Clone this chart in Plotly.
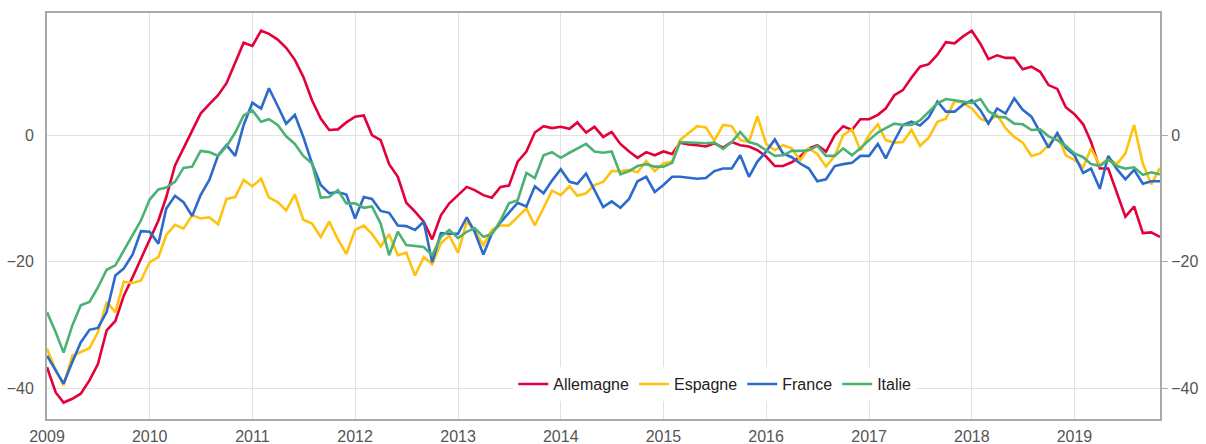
import pandas as pd
import plotly.graph_objects as go

months = pd.date_range("2009-01-01", periods=131, freq="MS")

allemagne = [-36.7, -40.7, -42.3, -41.7, -40.9, -38.8, -36.2, -30.9, -29.4, -25.4, -22.5, -19.5,
             -16.4, -13.5, -9.8, -4.8, -2.1, 0.8, 3.4, 4.9, 6.3, 8.2, 11.4, 14.6,
             14.1, 16.5, 16.0, 15.1, 13.8, 11.9, 9.2, 5.5, 2.6, 0.8, 0.9, 2.0,
             2.9, 3.1, 0.0, -0.8, -4.6, -6.6, -10.7, -12.1,
             -13.7, -16.5, -12.7, -10.8, -9.5, -8.2, -8.7, -9.5, -9.9, -8.2, -8.0, -4.2,
             -2.6, 0.4, 1.4, 1.1, 1.3, 1.0, 2.0, 0.4, 1.3, -0.3, 0.5, -1.4,
             -2.6, -3.6, -2.7, -3.2, -2.6, -3.0, -1.2, -1.5, -1.6, -1.8, -1.3, -2.0,
             -1.1, -1.6, -1.8, -2.4, -3.4, -4.9, -4.9, -4.3, -3.4, -2.1, -1.6,
             -2.6, 0.0, 1.4, 0.8, 2.5, 2.5, 3.2, 4.2, 6.3, 7.1, 9.1, 10.8,
             11.2, 12.7, 14.7, 14.5, 15.6, 16.5, 14.4, 12.0, 12.6, 12.2, 12.2, 10.4,
             10.8, 10.0, 7.9, 7.3, 4.4, 3.3, 1.7, -1.1, -5.3, -5.3, -9.2, -12.9,
             -11.3, -15.5, -15.4, -16.1]

espagne = [-33.8, -37.2, -39.6, -34.9, -34.3, -33.7, -31.2, -26.4, -28.0, -23.2, -23.4, -23.0,
           -20.1, -19.3, -15.8, -14.2, -14.8, -12.7, -13.2, -13.0, -14.1, -10.1, -9.8, -7.1,
           -8.1, -6.9, -9.9, -10.6, -11.9, -9.4, -13.4, -14.0, -16.1, -13.7, -16.5, -18.8,
           -15.0, -14.3, -15.6, -17.6, -15.7, -19.0, -18.6, -22.2,
           -19.3, -20.4, -17.1, -15.9, -18.6, -13.7, -15.1, -17.4, -15.0, -14.3, -14.3, -12.9,
           -11.6, -14.3, -11.6, -8.8, -9.5, -8.1, -9.6, -9.2, -7.9, -7.4, -5.7, -5.7,
           -5.5, -5.9, -4.1, -5.7, -4.5, -4.2, -0.8, 0.3, 1.4, 1.2, -0.9, 1.6,
           1.4, -0.8, -1.1, 3.0, -1.4, -2.4, -1.6, -2.1, -4.0, -2.1, -3.0,
           -5.0, -3.3, 0.0, 0.9, -2.4, 0.0, 1.7, -0.8, -1.2, -1.1, 0.8, -1.7,
           -0.4, 2.1, 2.6, 5.4, 5.1, 4.2, 2.6, 2.1, 3.2, 1.1, -0.3, -1.2,
           -3.3, -2.9, -1.6, 0.1, -3.2, -3.9, -5.1, -2.1, -4.8, -3.7, -4.6, -2.9,
           1.6, -4.5, -7.8, -5.2]

france = [-34.9, -37.2, -39.3, -35.9, -32.8, -30.8, -30.5, -28.0, -22.2, -21.1, -18.9, -15.2,
          -15.3, -17.2, -11.6, -9.6, -10.6, -12.8, -9.5, -7.1, -3.2, -1.6, -3.3, 1.6,
          5.1, 4.2, 7.4, 4.6, 1.8, 3.2, -0.3, -4.5, -7.9, -9.2, -9.0, -9.4,
          -13.2, -9.8, -10.1, -12.0, -12.3, -14.3, -14.4, -15.0,
          -13.7, -20.1, -15.5, -15.6, -15.6, -13.0, -15.3, -18.9, -15.6, -13.8, -12.2, -10.7,
          -11.3, -8.1, -9.2, -7.2, -5.4, -7.4, -7.7, -6.1, -8.7, -11.4, -10.5, -11.5,
          -10.1, -7.3, -6.6, -9.0, -7.9, -6.6, -6.6, -6.8, -6.9, -6.8, -5.7, -5.3,
          -5.3, -3.2, -6.6, -4.2, -2.6, -0.7, -2.9, -3.5, -4.5, -5.3, -7.3,
          -7.0, -4.9, -4.6, -4.4, -3.3, -3.3, -1.4, -3.7, -0.9, 1.6, 2.1, 1.5,
          2.8, 5.3, 3.7, 3.7, 4.8, 5.5, 3.9, 1.8, 4.2, 3.4, 5.8, 4.0,
          2.9, 0.5, -2.0, 0.3, -2.0, -3.2, -6.0, -5.3, -8.5, -3.3, -5.4, -7.0,
          -5.5, -7.7, -7.3, -7.3]

italie = [-28.0, -31.2, -34.4, -30.1, -26.9, -26.4, -24.1, -21.3, -20.6, -18.2, -15.8, -13.5,
          -10.2, -8.6, -8.3, -7.4, -5.2, -5.0, -2.5, -2.7, -3.3, -1.8, 0.4, 3.1,
          3.9, 2.1, 2.5, 1.6, -0.2, -1.4, -3.3, -4.5, -9.9, -9.8, -8.7, -10.8,
          -10.8, -11.5, -11.3, -14.0, -19.0, -15.3, -17.4, -17.6,
          -17.7, -19.0, -16.1, -15.0, -16.3, -15.3, -14.7, -16.1, -15.7, -13.5, -10.8, -10.3,
          -6.0, -6.8, -3.2, -2.7, -3.6, -2.8, -2.1, -1.4, -2.6, -2.8, -2.6, -6.2,
          -5.7, -4.9, -4.6, -5.0, -5.0, -4.4, -1.1, -1.2, -1.2, -1.3, -1.2, -2.2,
          -1.1, 0.5, -1.1, -1.5, -2.4, -3.3, -3.2, -2.5, -2.5, -2.4, -1.7,
          -3.3, -3.3, -2.1, -3.2, -2.1, -0.8, 0.4, 1.1, 1.8, 1.6, 1.6, 2.3,
          3.7, 5.0, 5.7, 5.5, 5.4, 5.1, 5.7, 3.8, 2.9, 2.8, 1.8, 1.7,
          0.8, 0.9, -0.2, -0.8, -1.7, -2.9, -3.5, -4.6, -4.9, -3.9, -4.9, -5.3,
          -5.1, -6.3, -5.9, -6.2]

series_names = ["Allemagne", "Espagne", "France", "Italie"]
series_values = [allemagne, espagne, france, italie]
series_colors = ["#E4003A", "#FFC20E", "#2C6BCB", "#4BB274"]

y_range = [-44.9, 19.3]
y_ticks = [-40, -20, 0]
y_ticktext = ["\u221240", "\u221220", "0"]

FONT = "Liberation Sans, Arial, Helvetica, sans-serif"
FRAME = "#A9A9A9"
GRID = "#E2E2E2"
TICKFONT = dict(family=FONT, size=16, color="#555555")

fig = go.Figure()
for name, vals, col in zip(series_names, series_values, series_colors):
    fig.add_trace(go.Scatter(x=months, y=vals, mode="lines", name=name,
                             line=dict(color=col, width=2.6)))

# invisible trace to carry the right-hand axis
fig.add_trace(go.Scatter(x=months, y=allemagne, yaxis="y2", mode="lines",
                         line=dict(color="rgba(0,0,0,0)", width=0),
                         showlegend=False, hoverinfo="skip"))

fig.update_layout(
    width=1206, height=444,
    margin=dict(l=47, r=46, t=13, b=25, autoexpand=False),
    paper_bgcolor="white", plot_bgcolor="white",
    font=dict(family=FONT, size=16, color="#555555"),
    showlegend=True,
    legend=dict(orientation="h", x=0.60, y=0.086, xanchor="center", yanchor="middle",
                bgcolor="white", font=dict(family=FONT, size=16, color="#222222"),
                itemwidth=30, tracegroupgap=0, itemclick=False),
    xaxis=dict(type="date", range=[months[0], months[-1]],
               dtick="M12", tick0="2009-01-01", tickformat="%Y",
               showgrid=True, gridcolor=GRID, gridwidth=1,
               showline=True, linecolor=FRAME, linewidth=2, mirror=True,
               ticks="outside", ticklen=2, tickcolor="rgba(0,0,0,0)",
               zeroline=False, automargin=False, tickfont=TICKFONT),
    yaxis=dict(range=y_range, tickvals=y_ticks, ticktext=y_ticktext,
               showgrid=True, gridcolor=GRID, gridwidth=1,
               showline=True, linecolor=FRAME, linewidth=2, mirror=True,
               ticks="outside", ticklen=8, tickcolor="rgba(0,0,0,0)",
               zeroline=False, automargin=False, tickfont=TICKFONT),
    yaxis2=dict(range=y_range, tickvals=y_ticks, ticktext=y_ticktext,
                overlaying="y", side="right", showgrid=False, zeroline=False,
                showline=True, linecolor=FRAME, linewidth=2,
                ticks="outside", ticklen=6, tickcolor=FRAME, tickwidth=1,
                automargin=False, tickfont=TICKFONT),
)

fig.write_html("out.html",
               config={"displayModeBar": False},
               post_script="document.body.style.margin='0';document.body.style.padding='0';")
